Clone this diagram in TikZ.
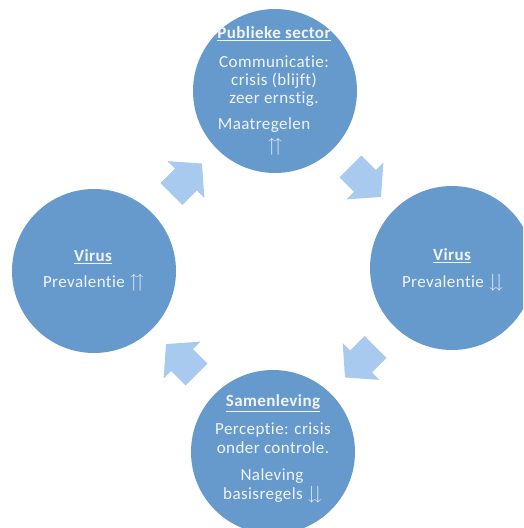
\documentclass[tikz,border=0pt]{standalone}
\usepackage{amssymb}
\usepackage{fontspec}
\setmainfont[LetterSpace=2.5,Ligatures=NoCommon]{Carlito}
\usetikzlibrary{calc}
\definecolor{circfill}{RGB}{102,153,204}
\definecolor{arrfill}{RGB}{168,202,238}
\definecolor{txtcol}{RGB}{240,245,252}
\tikzset{
  circ/.style={circle, fill=circfill, minimum size=164pt, inner sep=0pt},
  txt/.style={text=txtcol, font=\fontsize{17}{18}\selectfont, inner sep=0pt, anchor=base},
  cyclearrow/.pic={\fill[arrfill] (-18.5,-15.5) -- (2.1,-15.5) -- (2.1,-26) -- (24.7,0) -- (2.1,26) -- (2.1,15.5) -- (-18.5,15.5) -- cycle;}
}
\newcommand{\upup}{{\fontsize{19}{19}\selectfont$\upuparrows$}}
\newcommand{\dndn}{{\fontsize{19}{19}\selectfont$\downdownarrows$}}
\begin{document}
\begin{tikzpicture}[x=1pt,y=-1pt]
\useasboundingbox (0,0) rectangle (523,528);
\clip (0,0) rectangle (523,528);
\node[circ] (top) at (275,91) {};
\node[circ] (right) at (452,268) {};
\node[circ] (bottom) at (273,452) {};
\node[circ] (left) at (94,271) {};
\pic (a1) [rotate=45] at ($(left)!0.5!(top)$) {cyclearrow};
\pic (a2) [rotate=-45] at ($(top)!0.5!(right)$) {cyclearrow};
\pic (a3) [rotate=-135] at ($(right)!0.5!(bottom)$) {cyclearrow};
\pic (a4) [rotate=135] at ($(bottom)!0.5!(left)$) {cyclearrow};
% top
\node[txt] (t1) at (274,38) {\textbf{\underline{Publieke sector}}};
\node[txt] (t2) at (274,67) {Communicatie:};
\node[txt] (t3) at (274,85) {crisis (blijft)};
\node[txt] (t4) at (274,103) {zeer ernstig.};
\node[txt] (t5) at (264,129) {Maatregelen};
\node[txt] (t6) at (275,151) {\upup};
% right
\node[txt] (r1) at (452,260) {\textbf{\underline{Virus}}};
\node[txt] (r2) at (453,287) {Prevalentie \dndn};
% left
\node[txt] (l1) at (93,261) {\textbf{\underline{Virus}}};
\node[txt] (l2) at (94,287) {Prevalentie \upup};
% bottom
\node[txt] (b1) at (273,406) {\textbf{\underline{Samenleving}}};
\node[txt] (b2) at (273,434) {Perceptie: crisis};
\node[txt] (b3) at (273,453) {onder controle.};
\node[txt] (b4) at (272,480) {Naleving};
\node[txt] (b5) at (273,499) {basisregels \dndn};
\end{tikzpicture}
\end{document}
